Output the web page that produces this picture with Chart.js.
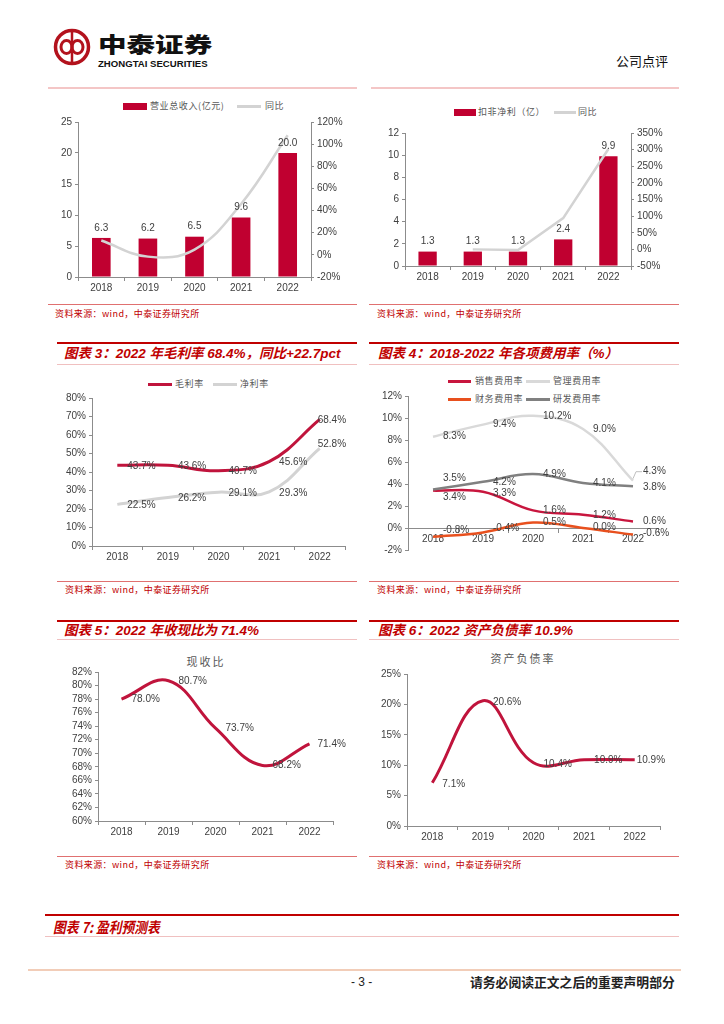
<!DOCTYPE html>
<html>
<head>
<meta charset="utf-8">
<script src="https://cdn.jsdelivr.net/npm/chart.js@4.4.0/dist/chart.umd.min.js"></script>
<style>
    body { margin: 0; background: #fff; }
    #page { position: relative; width: 724px; height: 1024px; overflow: hidden; background: #fff;
            font-family: "Noto Sans CJK SC", "Liberation Sans", sans-serif; }
    .rule { position: absolute; height: 0; }
    .title { position: absolute; color: #c00000; font-weight: bold; font-style: italic; font-size: 13.5px;
             font-family: "Liberation Sans", "Noto Sans CJK SC", sans-serif; white-space: nowrap; line-height: 16px; }
    .src { position: absolute; color: #c00000; font-size: 9px; letter-spacing: 0.4px; white-space: nowrap; line-height: 10px; }
    .leg { position: absolute; font-size: 9px; color: #595959; white-space: nowrap; line-height: 10px; letter-spacing: 0.6px; }
    .sw { position: absolute; }
    .ctitle { position: absolute; font-size: 11px; color: #595959; white-space: nowrap; line-height: 12px; letter-spacing: 2px;
              transform: translateX(-50%); }
    canvas { position: absolute; }
</style>
</head>
<body>
<div id="page">

    <!-- header -->
    <svg style="position:absolute;left:52px;top:27px" width="40" height="40" viewBox="0 0 40 40">
        <circle cx="20" cy="20" r="16.5" fill="none" stroke="#b3121d" stroke-width="3.5"/>
        <ellipse cx="14.5" cy="20" rx="5.5" ry="6.5" fill="none" stroke="#b3121d" stroke-width="3"/>
        <ellipse cx="25.5" cy="20" rx="5.5" ry="6.5" fill="none" stroke="#b3121d" stroke-width="3"/>
        <line x1="20" y1="5" x2="20" y2="35" stroke="#b3121d" stroke-width="2.5"/>
    </svg>
    <div style="position:absolute;left:98px;top:30px;font-size:21px;font-weight:900;line-height:26px;color:#111;transform:scaleX(1.36);transform-origin:left center;white-space:nowrap">中泰证券</div>
    <div style="position:absolute;left:98px;top:58px;font-size:9.6px;font-weight:bold;line-height:11px;color:#111;font-family:'Liberation Sans',sans-serif;white-space:nowrap">ZHONGTAI SECURITIES</div>
    <div style="position:absolute;left:616px;top:53px;font-size:13px;line-height:16px;color:#111;white-space:nowrap">公司点评</div>
    <div class="rule" style="left:48px;width:309px;top:87px;border-top:2px solid #f4c6c6"></div>
    <div class="rule" style="left:371px;width:308px;top:87px;border-top:2px solid #f4c6c6"></div>

    <!-- chart 1 legend -->
    <div class="sw" style="left:123px;top:103px;width:24px;height:7px;background:#c00030"></div>
    <div class="leg" style="left:150px;top:101px">营业总收入(亿元)</div>
    <div class="sw" style="left:237px;top:105px;width:24px;height:2.5px;background:#d3d3d3"></div>
    <div class="leg" style="left:265px;top:101px">同比</div>
    <canvas id="c1"></canvas>
    <div class="rule" style="left:48px;width:309px;top:304px;border-top:1px solid #e07070"></div>
    <div class="src" style="left:55px;top:309px">资料来源：wind，中泰证券研究所</div>

    <!-- chart 2 legend -->
    <div class="sw" style="left:454px;top:109px;width:22px;height:7px;background:#c00030"></div>
    <div class="leg" style="left:478px;top:107px">扣非净利（亿）</div>
    <div class="sw" style="left:554px;top:111px;width:22px;height:2.5px;background:#d3d3d3"></div>
    <div class="leg" style="left:578px;top:107px">同比</div>
    <canvas id="c2"></canvas>
    <div class="rule" style="left:369px;width:310px;top:304px;border-top:1px solid #e07070"></div>
    <div class="src" style="left:377px;top:309px">资料来源：wind，中泰证券研究所</div>

    <!-- chart 3 -->
    <div class="rule" style="left:57px;width:300px;top:342px;border-top:2.5px solid #c00000"></div>
    <div class="title" style="left:64px;top:346px">图表 3：2022 年毛利率 68.4%，同比+22.7pct</div>
    <div class="rule" style="left:57px;width:300px;top:364px;border-top:1.5px solid #f0c0c0"></div>
    <div class="sw" style="left:148px;top:383px;width:24px;height:3px;background:#c0143c"></div>
    <div class="leg" style="left:175px;top:379px">毛利率</div>
    <div class="sw" style="left:213px;top:383px;width:24px;height:3px;background:#d3d3d3"></div>
    <div class="leg" style="left:240px;top:379px">净利率</div>
    <canvas id="c3"></canvas>
    <div class="rule" style="left:57px;width:300px;top:581px;border-top:1px solid #e07070"></div>
    <div class="src" style="left:65px;top:585px">资料来源：wind，中泰证券研究所</div>

    <!-- chart 4 -->
    <div class="rule" style="left:369px;width:310px;top:342px;border-top:2.5px solid #c00000"></div>
    <div class="title" style="left:378px;top:346px">图表 4：2018-2022 年各项费用率（%）</div>
    <div class="rule" style="left:369px;width:310px;top:364px;border-top:1.5px solid #f0c0c0"></div>
    <div class="sw" style="left:448px;top:380px;width:23px;height:3px;background:#c8163e"></div>
    <div class="leg" style="left:475px;top:376px">销售费用率</div>
    <div class="sw" style="left:526px;top:380px;width:24px;height:3px;background:#d9d9d9"></div>
    <div class="leg" style="left:553px;top:376px">管理费用率</div>
    <div class="sw" style="left:448px;top:398px;width:23px;height:3px;background:#e8501e"></div>
    <div class="leg" style="left:475px;top:394px">财务费用率</div>
    <div class="sw" style="left:526px;top:398px;width:24px;height:3px;background:#808080"></div>
    <div class="leg" style="left:553px;top:394px">研发费用率</div>
    <canvas id="c4"></canvas>
    <div class="rule" style="left:369px;width:310px;top:581px;border-top:1px solid #e07070"></div>
    <div class="src" style="left:377px;top:585px">资料来源：wind，中泰证券研究所</div>

    <!-- chart 5 -->
    <div class="rule" style="left:57px;width:300px;top:620px;border-top:2.5px solid #c00000"></div>
    <div class="title" style="left:64px;top:623px">图表 5：2022 年收现比为 71.4%</div>
    <div class="rule" style="left:57px;width:300px;top:639px;border-top:1.5px solid #f0c0c0"></div>
    <div class="ctitle" style="left:206px;top:655px">现收比</div>
    <canvas id="c5"></canvas>
    <div class="rule" style="left:57px;width:300px;top:856px;border-top:1px solid #e07070"></div>
    <div class="src" style="left:65px;top:860px">资料来源：wind，中泰证券研究所</div>

    <!-- chart 6 -->
    <div class="rule" style="left:369px;width:310px;top:620px;border-top:2.5px solid #c00000"></div>
    <div class="title" style="left:378px;top:623px">图表 6：2022 资产负债率 10.9%</div>
    <div class="rule" style="left:369px;width:310px;top:639px;border-top:1.5px solid #f0c0c0"></div>
    <div class="ctitle" style="left:523px;top:652px">资产负债率</div>
    <canvas id="c6"></canvas>
    <div class="rule" style="left:369px;width:310px;top:856px;border-top:1px solid #e07070"></div>
    <div class="src" style="left:377px;top:860px">资料来源：wind，中泰证券研究所</div>

    <!-- chart 7 title + footer -->
    <div class="rule" style="left:45px;width:634px;top:914px;border-top:2.5px solid #c00000"></div>
    <div style="position:absolute;left:53px;top:918px;font-size:15px;line-height:18px;font-weight:bold;font-style:italic;color:#c00000;transform:scaleX(0.85);transform-origin:left center;white-space:nowrap">图表 7: 盈利预测表</div>
    <div class="rule" style="left:45px;width:634px;top:936px;border-top:1.5px solid #f0c0c0"></div>
    <div class="rule" style="left:28px;width:653px;top:969px;border-top:2px solid #f2cdb8"></div>
    <div style="position:absolute;left:351px;top:975px;font-size:12px;line-height:14px;color:#222;font-family:'Liberation Sans',sans-serif;white-space:nowrap">- 3 -</div>
    <div style="position:absolute;left:470px;top:974px;font-size:12.8px;line-height:16px;font-weight:bold;color:#222;white-space:nowrap">请务必阅读正文之后的重要声明部分</div>
</div>

<script>
/* data */

const years = ['2018', '2019', '2020', '2021', '2022'];

const revenue = [6.3, 6.2, 6.5, 9.6, 20.0];          // 营业总收入(亿元)
const revenueYoY = [13, -1.6, 4.8, 46, 108];         // 同比 %
const revenueTicks = { left: [0, 25, 5], right: [-20, 120, 20] };

const profitAdj = [1.3, 1.3, 1.3, 2.4, 9.9];          // 扣非净利(亿)
const profitAdjYoY = [null, 0, -2, 94, 302];          // 同比 %
const profitTicks = { left: [0, 12, 2], right: [-50, 350, 50] };

const grossMargin = [43.7, 43.6, 40.7, 45.6, 68.4];   // 毛利率 %
const netMargin = [22.5, 26.2, 29.1, 29.3, 52.8];     // 净利率 %
const marginTicks = [0, 80, 10];

const sellingRate = [3.4, 3.3, 1.6, 1.2, 0.6];        // 销售费用率 %
const adminRate = [8.3, 9.4, 10.2, 9.0, 4.3];         // 管理费用率 %
const financeRate = [-0.8, -0.4, 0.5, 0.0, -0.6];     // 财务费用率 %
const rdRate = [3.5, 4.2, 4.9, 4.1, 3.8];             // 研发费用率 %
const expenseTicks = [-2, 12, 2];

const cashRatio = [78.0, 80.7, 73.7, 68.2, 71.4];     // 现收比 %
const cashTicks = [60, 82, 2];

const debtRatio = [7.1, 20.6, 10.4, 10.9, 10.9];      // 资产负债率 %
const debtTicks = [0, 25, 5];

/* shared styles */

const AXIS = '#8c8c8c';
const TXT = '#404040';
Chart.defaults.font.family = '"Liberation Sans", Arial, sans-serif';
Chart.defaults.font.size = 10;
Chart.defaults.color = TXT;

function yAxis(t, pct, width, pos) {
    return {
        position: pos || 'left',
        min: t[0], max: t[1],
        afterFit: function (s) { s.width = width; },
        ticks: {
            stepSize: t[2], padding: 3, color: TXT, font: { size: 10 }, autoSkip: false,
            callback: function (v) { return v + (pct ? '%' : ''); }
        },
        grid: { drawOnChartArea: false, tickLength: 3, color: AXIS },
        border: { color: AXIS }
    };
}

function xAxis(height, extra) {
    return Object.assign({
        type: 'category', offset: true,
        afterFit: function (s) { s.height = height; },
        ticks: { padding: 1, color: TXT, font: { size: 10 }, maxRotation: 0, autoSkip: false },
        grid: { offset: true, drawOnChartArea: false, tickLength: 4, color: AXIS },
        border: { color: AXIS }
    }, extra || {});
}

/* value labels drawn next to points / above bars */

function valueLabels(sets) {
    return {
        id: 'valueLabels',
        afterDatasetsDraw: function (chart) {
            const ctx = chart.ctx;
            ctx.save();
            ctx.font = '10px "Liberation Sans", Arial, sans-serif';
            ctx.fillStyle = TXT;
            ctx.textBaseline = 'middle';
            sets.forEach(function (cfg) {
                const ds = chart.data.datasets[cfg.index];
                const meta = chart.getDatasetMeta(cfg.index);
                meta.data.forEach(function (el, j) {
                    const v = ds.data[j];
                    if (v === null || v === undefined) return;
                    const off = (cfg.offsets && cfg.offsets[j]) || cfg.offset;
                    ctx.textAlign = cfg.align || 'left';
                    if (cfg.leader && cfg.leader[j]) {
                        ctx.strokeStyle = '#bfbfbf';
                        ctx.lineWidth = 1;
                        ctx.beginPath();
                        ctx.moveTo(el.x, el.y - 2);
                        ctx.lineTo(el.x + 3, el.y + off[1]);
                        ctx.lineTo(el.x + off[0] - 1, el.y + off[1]);
                        ctx.stroke();
                    }
                    ctx.fillText(v.toFixed(1) + (cfg.suffix || ''), el.x + off[0], el.y + off[1]);
                });
            });
            ctx.restore();
        }
    };
}

/* place a canvas so that its plot area lands on [left, top, right, bottom] */

function makeChart(id, area, m, config) {
    const cv = document.getElementById(id);
    const w = area[2] - area[0] + m.l + m.r;
    const h = area[3] - area[1] + m.t + m.b;
    cv.width = w; cv.height = h;
    cv.style.left = (area[0] - m.l) + 'px';
    cv.style.top = (area[1] - m.t) + 'px';
    cv.style.width = w + 'px';
    cv.style.height = h + 'px';
    config.options = Object.assign({
        responsive: false,
        animation: false,
        plugins: { legend: { display: false }, tooltip: { enabled: false } }
    }, config.options);
    return new Chart(cv.getContext('2d'), config);
}

function lineSet(label, data, color, width) {
    return {
        type: 'line', label: label, data: data,
        borderColor: color, backgroundColor: color, borderWidth: width || 3,
        pointRadius: 0, tension: 0.4, fill: false
    };
}

/* chart 1: revenue */

makeChart('c1', [78, 122, 311, 277], { l: 30, r: 42, t: 10, b: 20 }, {
    type: 'bar',
    data: {
        labels: years,
        datasets: [
            Object.assign(lineSet('同比', revenueYoY, '#d3d3d3', 2.5), { yAxisID: 'y1', order: 0 }),
            { label: '营业总收入(亿元)', data: revenue, backgroundColor: '#c00030', yAxisID: 'y',
              barPercentage: 0.4, categoryPercentage: 1, order: 1 }
        ]
    },
    options: {
        layout: { padding: { top: 10, right: 0, left: 0, bottom: 0 } },
        scales: {
            x: xAxis(20),
            y: yAxis(revenueTicks.left, false, 30),
            y1: yAxis(revenueTicks.right, true, 42, 'right')
        }
    },
    plugins: [valueLabels([{ index: 1, align: 'center', offset: [0, -10] }])]
});

/* chart 2: adjusted net profit */

makeChart('c2', [405, 133, 631, 266], { l: 30, r: 45, t: 10, b: 20 }, {
    type: 'bar',
    data: {
        labels: years,
        datasets: [
            Object.assign(lineSet('同比', profitAdjYoY, '#d3d3d3', 2.5), { yAxisID: 'y1', order: 0, tension: 0 }),
            { label: '扣非净利（亿）', data: profitAdj, backgroundColor: '#c00030', yAxisID: 'y',
              barPercentage: 0.405, categoryPercentage: 1, order: 1 }
        ]
    },
    options: {
        layout: { padding: { top: 10, right: 0, left: 0, bottom: 0 } },
        scales: {
            x: xAxis(20),
            y: yAxis(profitTicks.left, false, 30),
            y1: yAxis(profitTicks.right, true, 45, 'right')
        }
    },
    plugins: [valueLabels([{ index: 1, align: 'center', offset: [0, -10] }])]
});

/* chart 3: margins */

makeChart('c3', [92, 398, 345, 546], { l: 35, r: 12, t: 10, b: 20 }, {
    type: 'line',
    data: {
        labels: years,
        datasets: [
            lineSet('毛利率', grossMargin, '#c0143c', 3),
            lineSet('净利率', netMargin, '#d3d3d3', 3)
        ]
    },
    options: {
        layout: { padding: { top: 10, right: 12, left: 0, bottom: 0 } },
        scales: { x: xAxis(20), y: yAxis(marginTicks, true, 35) }
    },
    plugins: [valueLabels([
        { index: 0, suffix: '%', offset: [10, 1], offsets: { 4: [-2, 1] } },
        { index: 1, suffix: '%', offset: [10, 1], offsets: { 4: [-2, -4] } }
    ])]
});

/* chart 4: expense ratios */

makeChart('c4', [408, 396, 658, 551], { l: 35, r: 20, t: 10, b: 8 }, {
    type: 'line',
    data: {
        labels: years,
        datasets: [
            lineSet('管理费用率', adminRate, '#d9d9d9', 2.5),
            lineSet('研发费用率', rdRate, '#808080', 2.5),
            lineSet('销售费用率', sellingRate, '#c8163e', 2.5),
            lineSet('财务费用率', financeRate, '#e8501e', 2.5)
        ]
    },
    options: {
        layout: { padding: { top: 10, right: 20, left: 0, bottom: 8 } },
        scales: {
            x: xAxis(0, { position: { y: 0 } }),
            y: yAxis(expenseTicks, true, 35)
        }
    },
    plugins: [valueLabels([
        { index: 0, suffix: '%', offset: [10, 0], offsets: { 4: [10, -9] }, leader: { 4: true } },
        { index: 1, suffix: '%', offset: [10, 0], offsets: { 0: [10, -11], 4: [10, 1] } },
        { index: 2, suffix: '%', offset: [10, 0], offsets: { 0: [10, 7], 1: [10, 2] } },
        { index: 3, suffix: '%', offset: [10, 0], offsets: { 0: [10, -7], 1: [10, -4], 3: [10, -1], 4: [10, -1] } }
    ])]
});

/* chart 5: cash collection ratio */

makeChart('c5', [98, 672, 333, 821], { l: 35, r: 15, t: 10, b: 20 }, {
    type: 'line',
    data: { labels: years, datasets: [lineSet('现收比', cashRatio, '#c0143c', 3)] },
    options: {
        layout: { padding: { top: 10, right: 15, left: 0, bottom: 0 } },
        scales: { x: xAxis(20), y: yAxis(cashTicks, true, 35) }
    },
    plugins: [valueLabels([{ index: 0, suffix: '%', offset: [10, 0], offsets: { 4: [8, 0] } }])]
});

/* chart 6: debt ratio */

makeChart('c6', [407, 674, 660, 826], { l: 35, r: 20, t: 10, b: 20 }, {
    type: 'line',
    data: { labels: years, datasets: [lineSet('资产负债率', debtRatio, '#c0143c', 3)] },
    options: {
        layout: { padding: { top: 10, right: 20, left: 0, bottom: 0 } },
        scales: { x: xAxis(20), y: yAxis(debtTicks, true, 35) }
    },
    plugins: [valueLabels([{ index: 0, suffix: '%', offset: [10, 1], offsets: { 4: [2, 1] } }])]
});
</script>
</body>
</html>
